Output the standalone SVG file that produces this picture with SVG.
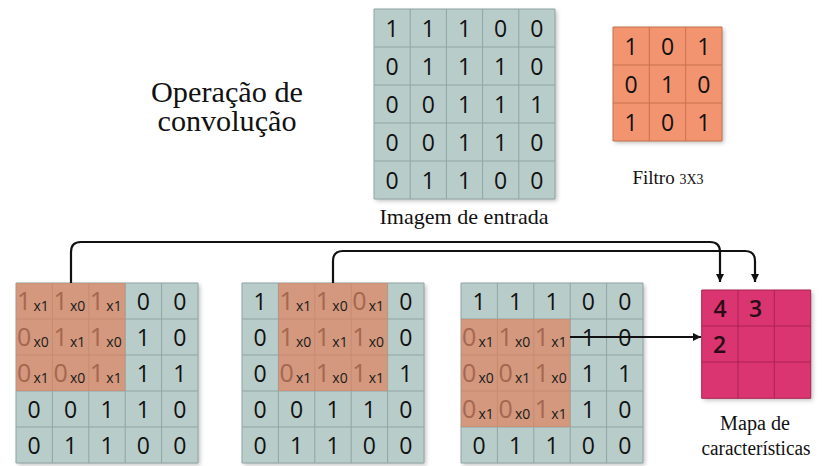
<svg xmlns="http://www.w3.org/2000/svg" width="823" height="466" viewBox="0 0 823 466">
<style>
.g{fill:#B8CCCA}
.gl{fill:none;stroke:#8FA6A4;stroke-width:1}
.d{font-family:"Open Sans","Liberation Sans",sans-serif;font-size:23px;fill:#111;text-anchor:middle}
.ov{fill:#E07F58;fill-opacity:0.68}
.od{font-family:"Open Sans","Liberation Sans",sans-serif;font-size:25px;fill:#A5674F}
.om{font-family:"Open Sans","Liberation Sans",sans-serif;font-size:14px;fill:#1a1a1a}
.lbl{font-family:"Liberation Serif","DejaVu Serif",serif;fill:#111;text-anchor:middle}
.con{fill:none;stroke:#111;stroke-width:2.2}
</style>
<defs>
<filter id="sh" x="-10%" y="-10%" width="125%" height="125%">
<feDropShadow dx="2" dy="2" stdDeviation="2" flood-color="#000" flood-opacity="0.25"/>
</filter>
<marker id="ah" markerWidth="10" markerHeight="10" refX="8" refY="5" orient="auto" markerUnits="userSpaceOnUse">
<path d="M0,1 L8,5 L0,9 Z" fill="#111"/>
</marker>
</defs>
<rect width="823" height="466" fill="#fff"/>

<g id="title">
<text class="lbl" x="227" y="102" font-size="29" textLength="152" lengthAdjust="spacingAndGlyphs">Operação de</text>
<text class="lbl" x="227" y="131" font-size="29" textLength="139" lengthAdjust="spacingAndGlyphs">convolução</text>
</g>

<g id="input">
<rect class="g" x="374" y="9" width="181" height="190" filter="url(#sh)"/>
<path class="gl" d="M374,9H555V199H374Z M410.2,9V199 M446.4,9V199 M482.6,9V199 M518.8,9V199 M374,47H555 M374,85H555 M374,123H555 M374,161H555"/>
<g class="d">
<text x="392.1" y="36.5">1</text><text x="428.3" y="36.5">1</text><text x="464.5" y="36.5">1</text><text x="500.7" y="36.5">0</text><text x="536.9" y="36.5">0</text>
<text x="392.1" y="74.5">0</text><text x="428.3" y="74.5">1</text><text x="464.5" y="74.5">1</text><text x="500.7" y="74.5">1</text><text x="536.9" y="74.5">0</text>
<text x="392.1" y="112.5">0</text><text x="428.3" y="112.5">0</text><text x="464.5" y="112.5">1</text><text x="500.7" y="112.5">1</text><text x="536.9" y="112.5">1</text>
<text x="392.1" y="150.5">0</text><text x="428.3" y="150.5">0</text><text x="464.5" y="150.5">1</text><text x="500.7" y="150.5">1</text><text x="536.9" y="150.5">0</text>
<text x="392.1" y="188.5">0</text><text x="428.3" y="188.5">1</text><text x="464.5" y="188.5">1</text><text x="500.7" y="188.5">0</text><text x="536.9" y="188.5">0</text>
</g>
<text class="lbl" x="464" y="224" font-size="21" textLength="169" lengthAdjust="spacingAndGlyphs">Imagem de entrada</text>
</g>

<g id="filter">
<rect x="613" y="27" width="109" height="114" fill="#F29470" filter="url(#sh)"/>
<path fill="none" stroke="#C8704E" stroke-width="1" d="M613,27H722V141H613Z M649.3,27V141 M685.7,27V141 M613,65H722 M613,103H722"/>
<g class="d">
<text x="631.2" y="54.5">1</text><text x="667.5" y="54.5">0</text><text x="703.8" y="54.5">1</text>
<text x="631.2" y="92.5">0</text><text x="667.5" y="92.5">1</text><text x="703.8" y="92.5">0</text>
<text x="631.2" y="130.5">1</text><text x="667.5" y="130.5">0</text><text x="703.8" y="130.5">1</text>
</g>
<text class="lbl" x="668" y="184" font-size="19">Filtro <tspan font-size="14">3X3</tspan></text>
</g>

<g id="step1">
<rect class="g" x="16" y="283" width="182" height="180" filter="url(#sh)"/>
<path class="gl" d="M16,283H198V463H16Z M52.4,283V463 M88.8,283V463 M125.2,283V463 M161.6,283V463 M16,319H198 M16,355H198 M16,391H198 M16,427H198"/>
<rect class="ov" x="16" y="283" width="109.2" height="108"/>
<g class="od">
<text x="17" y="310">1</text><text x="53.4" y="310">1</text><text x="89.8" y="310">1</text>
<text x="17" y="346">0</text><text x="53.4" y="346">1</text><text x="89.8" y="346">1</text>
<text x="17" y="382">0</text><text x="53.4" y="382">0</text><text x="89.8" y="382">1</text>
</g>
<g class="om">
<text x="33.5" y="311">x1</text><text x="69.9" y="311">x0</text><text x="106.3" y="311">x1</text>
<text x="33.5" y="347">x0</text><text x="69.9" y="347">x1</text><text x="106.3" y="347">x0</text>
<text x="33.5" y="383">x1</text><text x="69.9" y="383">x0</text><text x="106.3" y="383">x1</text>
</g>
<g class="d">
<text x="143.4" y="309.5">0</text><text x="179.8" y="309.5">0</text>
<text x="143.4" y="345.5">1</text><text x="179.8" y="345.5">0</text>
<text x="143.4" y="381.5">1</text><text x="179.8" y="381.5">1</text>
<text x="34.2" y="417.5">0</text><text x="70.6" y="417.5">0</text><text x="107" y="417.5">1</text><text x="143.4" y="417.5">1</text><text x="179.8" y="417.5">0</text>
<text x="34.2" y="453.5">0</text><text x="70.6" y="453.5">1</text><text x="107" y="453.5">1</text><text x="143.4" y="453.5">0</text><text x="179.8" y="453.5">0</text>
</g>
</g>

<g id="step2">
<rect class="g" x="242" y="283" width="182" height="180" filter="url(#sh)"/>
<path class="gl" d="M242,283H424V463H242Z M278.4,283V463 M314.8,283V463 M351.2,283V463 M387.6,283V463 M242,319H424 M242,355H424 M242,391H424 M242,427H424"/>
<rect class="ov" x="278.4" y="283" width="109.2" height="108"/>
<g class="od">
<text x="279.4" y="310">1</text><text x="315.8" y="310">1</text><text x="352.2" y="310">0</text>
<text x="279.4" y="346">1</text><text x="315.8" y="346">1</text><text x="352.2" y="346">1</text>
<text x="279.4" y="382">0</text><text x="315.8" y="382">1</text><text x="352.2" y="382">1</text>
</g>
<g class="om">
<text x="295.9" y="311">x1</text><text x="332.3" y="311">x0</text><text x="368.7" y="311">x1</text>
<text x="295.9" y="347">x0</text><text x="332.3" y="347">x1</text><text x="368.7" y="347">x0</text>
<text x="295.9" y="383">x1</text><text x="332.3" y="383">x0</text><text x="368.7" y="383">x1</text>
</g>
<g class="d">
<text x="260.2" y="309.5">1</text><text x="405.8" y="309.5">0</text>
<text x="260.2" y="345.5">0</text><text x="405.8" y="345.5">0</text>
<text x="260.2" y="381.5">0</text><text x="405.8" y="381.5">1</text>
<text x="260.2" y="417.5">0</text><text x="296.6" y="417.5">0</text><text x="333" y="417.5">1</text><text x="369.4" y="417.5">1</text><text x="405.8" y="417.5">0</text>
<text x="260.2" y="453.5">0</text><text x="296.6" y="453.5">1</text><text x="333" y="453.5">1</text><text x="369.4" y="453.5">0</text><text x="405.8" y="453.5">0</text>
</g>
</g>

<g id="step3">
<rect class="g" x="461" y="283" width="182" height="180" filter="url(#sh)"/>
<path class="gl" d="M461,283H643V463H461Z M497.4,283V463 M533.8,283V463 M570.2,283V463 M606.6,283V463 M461,319H643 M461,355H643 M461,391H643 M461,427H643"/>
<rect class="ov" x="461" y="319" width="109.2" height="108"/>
<g class="od">
<text x="462" y="346">0</text><text x="498.4" y="346">1</text><text x="534.8" y="346">1</text>
<text x="462" y="382">0</text><text x="498.4" y="382">0</text><text x="534.8" y="382">1</text>
<text x="462" y="418">0</text><text x="498.4" y="418">0</text><text x="534.8" y="418">1</text>
</g>
<g class="om">
<text x="478.5" y="347">x1</text><text x="514.9" y="347">x0</text><text x="551.3" y="347">x1</text>
<text x="478.5" y="383">x0</text><text x="514.9" y="383">x1</text><text x="551.3" y="383">x0</text>
<text x="478.5" y="419">x1</text><text x="514.9" y="419">x0</text><text x="551.3" y="419">x1</text>
</g>
<g class="d">
<text x="479.2" y="309.5">1</text><text x="515.6" y="309.5">1</text><text x="552" y="309.5">1</text><text x="588.4" y="309.5">0</text><text x="624.8" y="309.5">0</text>
<text x="588.4" y="345.5">1</text><text x="624.8" y="345.5">0</text>
<text x="588.4" y="381.5">1</text><text x="624.8" y="381.5">1</text>
<text x="588.4" y="417.5">1</text><text x="624.8" y="417.5">0</text>
<text x="479.2" y="453.5">0</text><text x="515.6" y="453.5">1</text><text x="552" y="453.5">1</text><text x="588.4" y="453.5">0</text><text x="624.8" y="453.5">0</text>
</g>
</g>

<g id="featuremap">
<rect x="701.7" y="290" width="109" height="108.3" fill="#DA3670" filter="url(#sh)"/>
<path fill="none" stroke="#A8234F" stroke-width="1" d="M701.7,290H810.7V398.3H701.7Z M738,290V398.3 M774.3,290V398.3 M701.7,326H810.7 M701.7,362H810.7"/>
<g class="d" style="font-weight:600;fill:#2a0c18">
<text x="720" y="317">4</text><text x="755.5" y="317">3</text>
<text x="719.5" y="352.5">2</text>
</g>
<text class="lbl" x="755" y="430" font-size="20" textLength="70" lengthAdjust="spacingAndGlyphs">Mapa de</text>
<text class="lbl" x="756" y="455" font-size="20" textLength="109" lengthAdjust="spacingAndGlyphs">características</text>
</g>

<g id="connectors">
<path class="con" d="M71,283 V252 Q71,242 81,242 H710 Q720,242 720,252 V282" marker-end="url(#ah)"/>
<path class="con" d="M333,283 V261 Q333,251 343,251 H745 Q755,251 755,261 V282" marker-end="url(#ah)"/>
<path class="con" d="M570,337 H701" marker-end="url(#ah)"/>
</g>
</svg>
